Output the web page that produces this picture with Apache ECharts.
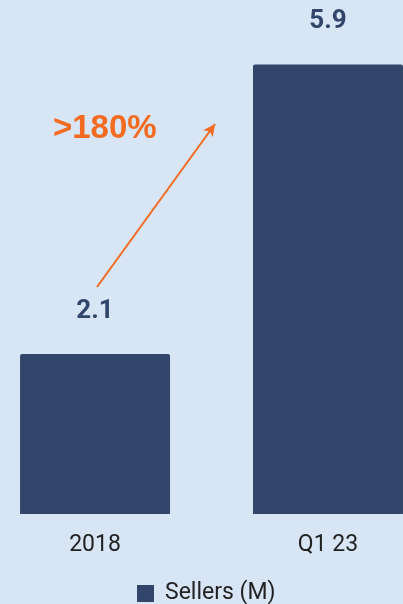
<!DOCTYPE html>
<html>
<head>
<meta charset="utf-8">
<script src="https://cdn.jsdelivr.net/npm/echarts@6/dist/echarts.min.js"></script>
<style>
  html, body { margin: 0; padding: 0; background: #d8e5f4; }
  #main { width: 403px; height: 604px; }
</style>
</head>
<body>
<div id="main"></div>
<script>
// data
const categories = ['2018', 'Q1 23'];
const sellers = [2.1, 5.9];
const growthText = '>180%';

const navy = '#32466b';
const orange = '#f26b21';

// category index -> x value so that the second bar runs off the right edge like the original
const barData = sellers.map((v, i) => [i, v]);

let myChart = echarts.init(document.getElementById('main'));
myChart.setOption({
  backgroundColor: '#d8e5f4',
  animation: false,
  legend: {
    data: ['Sellers (M)'],
    left: 137,
    top: 582,
    padding: 0,
    itemWidth: 17,
    itemHeight: 17,
    icon: 'rect',
    textStyle: { fontFamily: 'Roboto', fontSize: 23, color: '#222', padding: [0, 0, 0, 6] }
  },
  grid: { left: 0, right: 0, top: 57, bottom: 90 },
  xAxis: {
    type: 'value',
    min: -0.408,
    max: 1.322,
    splitLine: { show: false },
    axisLine: { show: false },
    axisTick: { show: false },
    axisLabel: {
      customValues: [0, 1],
      formatter: v => categories[Math.round(v)],
      fontFamily: 'Roboto',
      fontSize: 23,
      color: '#222',
      margin: 20
    }
  },
  yAxis: {
    type: 'value',
    min: 0,
    max: 6,
    show: false,
    splitLine: { show: false }
  },
  series: [
    {
      name: 'Sellers (M)',
      type: 'bar',
      data: barData,
      barWidth: 150,
      itemStyle: { color: navy, borderRadius: [2, 2, 0, 0] },
      label: {
        show: true,
        position: 'top',
        distance: 30,
        formatter: p => p.value[1],
        fontFamily: 'Roboto',
        fontWeight: 'bold',
        fontSize: 26,
        color: navy
      },
      markLine: {
        silent: true,
        symbol: ['none', 'arrow'],
        symbolSize: [9, 12],
        lineStyle: { color: orange, width: 2, type: 'solid' },
        label: { show: false },
        data: [[{ x: 97, y: 287 }, { x: 215, y: 124 }]]
      }
    }
  ],
  graphic: [
    {
      type: 'text',
      left: 53,
      top: 112,
      style: {
        text: growthText,
        fill: orange,
        font: 'bold 33px "Liberation Sans", Arial, sans-serif'
      }
    }
  ]
});
</script>
</body>
</html>
